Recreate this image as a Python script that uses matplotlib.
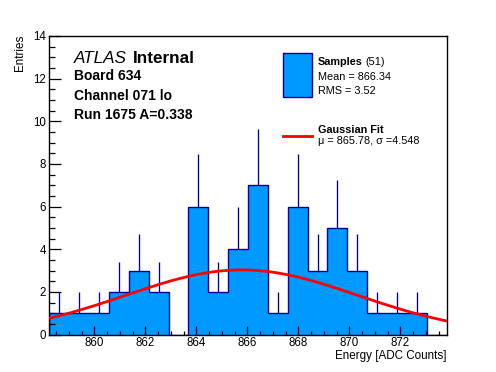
import numpy as np
import matplotlib
matplotlib.use("Agg")
import matplotlib.pyplot as plt
from matplotlib.ticker import MultipleLocator
from matplotlib.patches import Rectangle
from matplotlib.lines import Line2D

# ---- data ----
x_lo, x_hi = 858.235, 873.82
counts = [1, 1, 1, 2, 3, 2, 0, 6, 2, 4, 7, 1, 6, 3, 5, 3, 1, 1, 1, 0]
fit_mu, fit_sigma, fit_amp = 865.78, 4.548, 3.03
n_samples = 51
mean_val, rms_val = 866.34, 3.52
y_max = 14
x_ticks = [860, 862, 864, 866, 868, 870, 872]
y_ticks = [0, 2, 4, 6, 8, 10, 12, 14]

W, H = 496, 372
plt.rcParams['font.family'] = ['Liberation Sans', 'DejaVu Sans']
fig = plt.figure(figsize=(W / 100, H / 100), dpi=100)
ax = fig.add_axes([49.3 / W, 1 - 334.5 / H, (446.7 - 49.3) / W, (334.5 - 36) / H])

fill_c = '#0099ff'
edge_c = '#000099'

counts = np.array(counts, dtype=float)
edges = np.linspace(x_lo, x_hi, len(counts) + 1)
centers = 0.5 * (edges[:-1] + edges[1:])
widths = np.diff(edges)

ax.bar(edges[:-1], counts, width=widths, align='edge', color=fill_c,
       edgecolor='none', linewidth=0, zorder=1)
ax.stairs(counts, edges, color=edge_c, linewidth=1.0, zorder=2)
mask = counts > 0
ax.vlines(centers[mask], counts[mask], counts[mask] + np.sqrt(counts[mask]),
          color=edge_c, linewidth=0.95, zorder=2)

xf = np.linspace(x_lo, x_hi, 400)
yf = fit_amp * np.exp(-0.5 * ((xf - fit_mu) / fit_sigma) ** 2)
ax.plot(xf, yf, color='#ff0000', linewidth=2.0, zorder=3)

ax.set_xlim(x_lo, x_hi)
ax.set_ylim(0, y_max)
ax.set_xticks(x_ticks)
ax.set_yticks(y_ticks)
ax.xaxis.set_minor_locator(MultipleLocator(0.5))
ax.yaxis.set_minor_locator(MultipleLocator(0.5))
ax.tick_params(axis='both', which='both', direction='in', width=0.9,
               labelsize=8.3, top=False, right=False)
ax.tick_params(axis='x', which='major', length=6.5, pad=1.8)
ax.tick_params(axis='x', which='minor', length=3.2)
ax.tick_params(axis='y', which='major', length=8.6, pad=2.2)
ax.tick_params(axis='y', which='minor', length=4.3)
for s in ax.spines.values():
    s.set_linewidth(1.0)


def fx(px):
    return px / W


def fy(py):
    return 1 - py / H


fig.text(fx(446.5), fy(359.5), 'Energy [ADC Counts]', ha='right', va='baseline', fontsize=8.4)
fig.text(fx(20), fy(35), 'Entries', ha='center', va='top', rotation=90, fontsize=8.4)

fig.text(fx(74), fy(62.7), 'ATLAS', style='italic', fontsize=12.3, va='baseline')
fig.text(fx(133.3), fy(62.7), 'Internal', weight='bold', fontsize=12.3, va='baseline')
fig.text(fx(74), fy(80.5), 'Board 634', weight='bold', fontsize=10, va='baseline')
fig.text(fx(74), fy(99.5), 'Channel 071 lo', weight='bold', fontsize=10, va='baseline')
fig.text(fx(74), fy(118.7), 'Run 1675 A=0.338', weight='bold', fontsize=10, va='baseline')

# legend
fig.add_artist(Rectangle((fx(283.3), fy(96.7)), (311.7 - 283.3) / W, (96.7 - 53.3) / H,
                         transform=fig.transFigure, facecolor=fill_c, edgecolor=edge_c,
                         linewidth=1.0))
fig.add_artist(Line2D([fx(283), fx(312)], [fy(136), fy(136)], transform=fig.transFigure,
                      color='#ff0000', linewidth=2.0))
leg_fs = 7.8
t_samp = fig.text(fx(317.5), fy(65), 'Samples', weight='bold', fontsize=leg_fs, va='baseline')
fig.canvas.draw()
r = fig.canvas.get_renderer()
bb = t_samp.get_window_extent(renderer=r)
fig.text(fx(bb.x1 + 3), fy(65), f'({n_samples})', fontsize=leg_fs, va='baseline')
fig.text(fx(317.5), fy(80), f'Mean = {mean_val:.2f}', fontsize=leg_fs, va='baseline')
fig.text(fx(317.5), fy(93.5), f'RMS = {rms_val:.2f}', fontsize=leg_fs, va='baseline')
fig.text(fx(317.5), fy(132.7), 'Gaussian Fit', weight='bold', fontsize=leg_fs, va='baseline')
fig.text(fx(317.5), fy(144.5), f'\u03bc = {fit_mu:.2f}, \u03c3 ={fit_sigma:.3f}', fontsize=leg_fs, va='baseline')

fig.savefig('out.png', dpi=100, facecolor='white')
